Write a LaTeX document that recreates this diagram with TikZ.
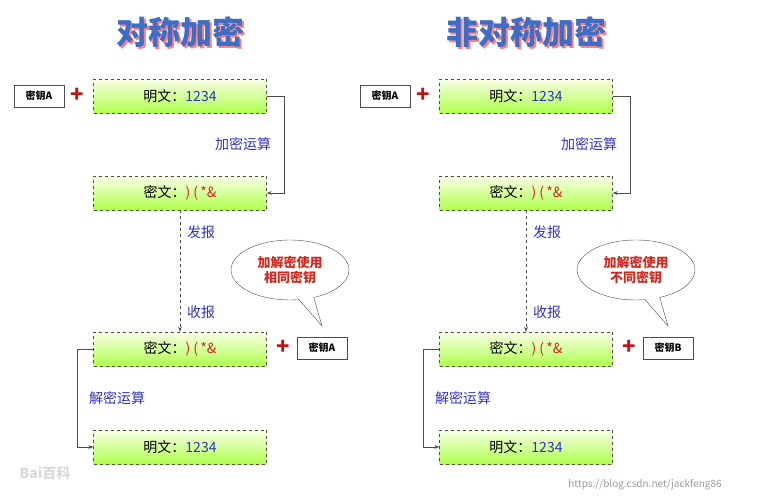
\documentclass[tikz,border=0pt]{standalone}
\usepackage{fontspec}
\setmainfont{Noto Sans CJK SC}
\usetikzlibrary{shapes.callouts,arrows.meta}
\definecolor{tblue}{RGB}{60,110,200}
\definecolor{lblue}{RGB}{50,50,200}
\definecolor{kred}{RGB}{210,40,30}
\definecolor{pred}{RGB}{190,20,20}
\tikzset{
 x=1pt,y=-1pt,
 gbox/.style={draw=black!70,dashed,top color=white!90!lime,bottom color=green!45!yellow!70!white,minimum width=173pt,minimum height=34pt,font=\fontsize{14}{14}\selectfont},
 kbox/.style={draw=black!70,fill=white,minimum width=50pt,minimum height=22pt,font=\bfseries\fontsize{10}{10}\selectfont,inner sep=1pt},
 plus/.style={text=pred,font=\bfseries\fontsize{22}{22}\selectfont},
 lab/.style={text=lblue,font=\fontsize{14}{14}\selectfont},
 ttl/.style={text=tblue,font=\bfseries\fontsize{32}{32}\selectfont},
 bub/.style={ellipse callout,draw=black!70,fill=white,minimum width=118pt,minimum height=60pt,align=center,text=kred,font=\bfseries\fontsize{13}{15}\selectfont},
 conn/.style={draw=black!70,thick,-{Stealth[length=5pt]}},
 dconn/.style={draw=black!70,dashed,-{Stealth[length=5pt]}},
}
\newcommand{\ct}{\textcolor{kred}{)\ (\,*\&}}
\begin{document}
\begin{tikzpicture}
\useasboundingbox (0,0) rectangle (759,503);
\foreach \o/\T/\bt/\kk/\n in {0/对称加密/相同密钥/A/l,346/非对称加密/不同密钥/B/r}{
 \node[ttl,text=red!50] (t\n s) at (\o+182,34) {\T};
 \node[ttl] (t\n) at (\o+180,32) {\T};
 \node[kbox] (ka\n) at (\o+39,96) {密钥A};
 \node[plus] (pa\n) at (\o+77,95) {+};
 \node[gbox] (b1\n) at (\o+180,96) {明文：\textcolor{lblue}{1234}};
 \node[gbox] (b2\n) at (\o+180,193) {密文：\ct};
 \node[gbox] (b3\n) at (\o+180,349) {密文：\ct};
 \node[gbox] (b4\n) at (\o+180,447) {明文：\textcolor{lblue}{1234}};
 \node[plus] (pb\n) at (\o+283,347) {+};
 \node[kbox] (kb\n) at (\o+322,348) {密钥\kk};
 \node[bub,callout absolute pointer={(\o+322,326)}] (c\n) at (\o+290,270) {加解密使用\\\bt};
 \draw[conn] (b1\n.east) -- ++(18,0) |- (b2\n.east);
 \node[lab] (e\n) at (\o+243,144) {加密运算};
 \draw[dconn] (b2\n.south) -- (b3\n.north);
 \node[lab] (s\n) at (\o+201,232) {发报};
 \node[lab] (r\n) at (\o+201,312) {收报};
 \draw[conn] (b3\n.west) -- ++(-16,0) |- (b4\n.west);
 \node[lab] (d\n) at (\o+117,398) {解密运算};
}
\node[text=black!15,font=\bfseries\fontsize{14}{14}\selectfont] (wm1) at (45,473) {Bai百科};
\node[text=black!40,font=\fontsize{10}{10}\selectfont] (wm2) at (645,485) {https://blog.csdn.net/jackfeng86};
\end{tikzpicture}
\end{document}
